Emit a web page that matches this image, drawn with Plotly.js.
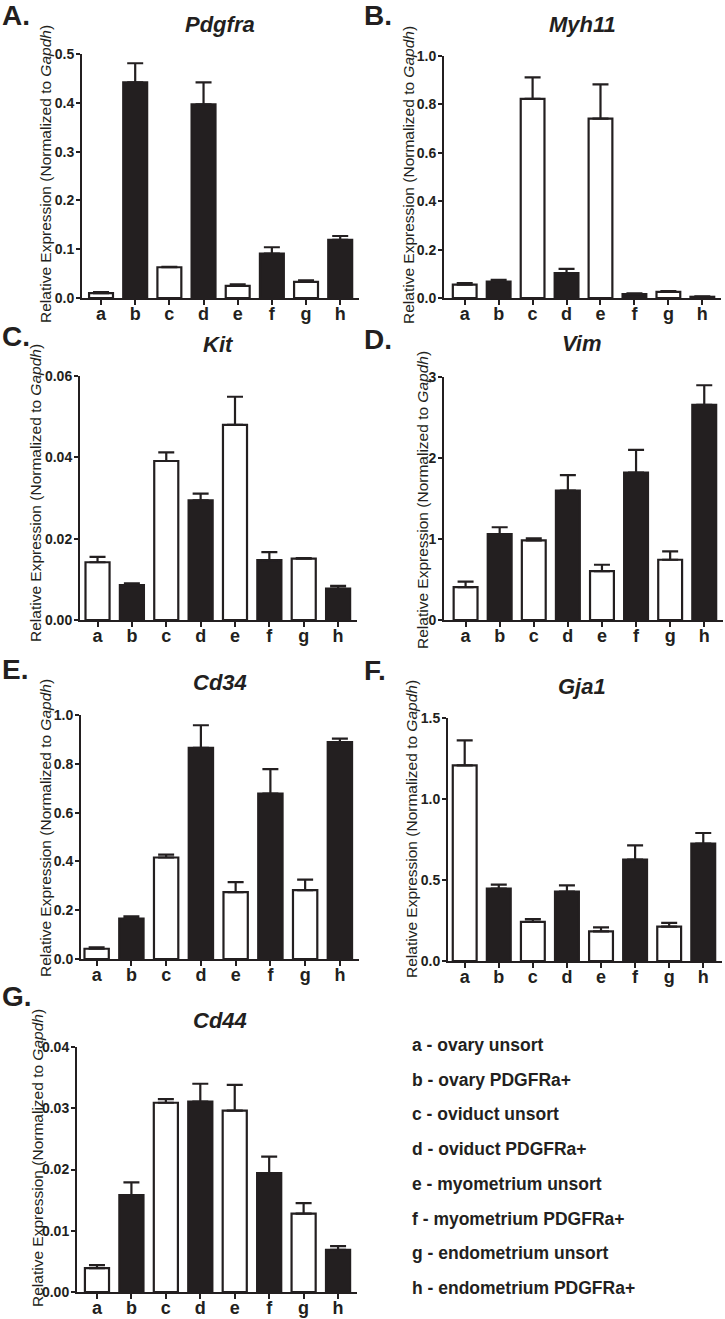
<!DOCTYPE html>
<html>
<head>
<meta charset="utf-8">
<script src="https://cdn.plot.ly/plotly-3.0.1.min.js"></script>
<style>html,body{margin:0;padding:0;background:#fff;}#chart{width:725px;height:1319px;}</style>
</head>
<body>
<div id="chart"></div>
<script>
// ---------------- DATA ----------------
const categories = ['a','b','c','d','e','f','g','h'];
const legendLabels = [
  'a - ovary unsort',
  'b - ovary PDGFRa+',
  'c - oviduct unsort',
  'd - oviduct PDGFRa+',
  'e - myometrium unsort',
  'f - myometrium PDGFRa+',
  'g - endometrium unsort',
  'h - endometrium PDGFRa+'
];
const geneNames = ['Pdgfra','Myh11','Kit','Vim','Cd34','Gja1','Cd44'];
const panelLetters = ['A.','B.','C.','D.','E.','F.','G.'];

const pdgfraMean = [0.010, 0.442, 0.063, 0.397, 0.025, 0.091, 0.033, 0.119];
const pdgfraSem  = [0.002, 0.039, 0.001, 0.045, 0.003, 0.013, 0.003, 0.008];
const myh11Mean  = [0.055, 0.068, 0.823, 0.103, 0.741, 0.016, 0.025, 0.005];
const myh11Sem   = [0.007, 0.007, 0.089, 0.017, 0.142, 0.003, 0.004, 0.002];
const kitMean    = [0.0142, 0.0086, 0.0391, 0.0294, 0.0480, 0.0147, 0.0151, 0.0077];
const kitSem     = [0.0013, 0.0004, 0.0021, 0.0017, 0.0069, 0.0020, 0.0001, 0.0007];
const vimMean    = [0.405, 1.062, 0.983, 1.596, 0.603, 1.820, 0.744, 2.657];
const vimSem     = [0.070, 0.083, 0.025, 0.193, 0.079, 0.280, 0.103, 0.241];
const cd34Mean   = [0.042, 0.166, 0.416, 0.865, 0.274, 0.678, 0.282, 0.889];
const cd34Sem    = [0.006, 0.009, 0.012, 0.093, 0.041, 0.100, 0.043, 0.014];
const gja1Mean   = [1.208, 0.447, 0.241, 0.428, 0.183, 0.626, 0.212, 0.724];
const gja1Sem    = [0.154, 0.025, 0.018, 0.039, 0.025, 0.088, 0.023, 0.066];
const cd44Mean   = [0.0039, 0.0158, 0.0309, 0.0311, 0.0296, 0.0194, 0.0128, 0.0069];
const cd44Sem    = [0.0005, 0.0021, 0.0006, 0.0029, 0.0042, 0.0027, 0.0017, 0.0006];

const pdgfraTicks = [0, 0.1, 0.2, 0.3, 0.4, 0.5];
const myh11Ticks  = [0, 0.2, 0.4, 0.6, 0.8, 1.0];
const kitTicks    = [0, 0.02, 0.04, 0.06];
const vimTicks    = [0, 1, 2, 3];
const cd34Ticks   = [0, 0.2, 0.4, 0.6, 0.8, 1.0];
const gja1Ticks   = [0, 0.5, 1.0, 1.5];
const cd44Ticks   = [0, 0.01, 0.02, 0.03, 0.04];

const means = [pdgfraMean, myh11Mean, kitMean, vimMean, cd34Mean, gja1Mean, cd44Mean];
const sems  = [pdgfraSem, myh11Sem, kitSem, vimSem, cd34Sem, gja1Sem, cd44Sem];
const ticks = [pdgfraTicks, myh11Ticks, kitTicks, vimTicks, cd34Ticks, gja1Ticks, cd44Ticks];
const tickDecimals = [1, 1, 2, 0, 1, 1, 2];

// ---------------- GEOMETRY / STYLE (pixels) ----------------
const W = 725, H = 1319;
const INK = '#231f20';
const FONT = 'Liberation Sans, Arial, sans-serif';
const geom = [
  {xa: 82,  xr: 359, top: 54,  bot: 298, r0: -0.557, tx: 220, ty: 25,  lx: 0,   ly: 16,  yx: 46,  yy: 174},
  {xa: 444, xr: 721, top: 56,  bot: 298, r0: -0.61,  tx: 582, ty: 25,  lx: 362, ly: 16,  yx: 408, yy: 175},
  {xa: 80,  xr: 357, top: 376, bot: 620, r0: -0.51,  tx: 218, ty: 345, lx: 0,   ly: 336, yx: 36,  yy: 493},
  {xa: 444, xr: 723, top: 377, bot: 620, r0: -0.633, tx: 582, ty: 343, lx: 362, ly: 340, yx: 422, yy: 500},
  {xa: 81,  xr: 359, top: 715, bot: 959, r0: -0.45,  tx: 220, ty: 683, lx: 0,   ly: 669, yx: 45,  yy: 828},
  {xa: 448, xr: 722, top: 718, bot: 961, r0: -0.49,  tx: 582, ty: 687, lx: 362, ly: 671, yx: 411, yy: 829},
  {xa: 77,  xr: 357, top: 1047, bot: 1292, r0: -0.58, tx: 220, ty: 1020, lx: 0, ly: 996, yx: 37, yy: 1158}
];

const fillFor = i => (i % 2 === 0 ? '#ffffff' : INK);

const traces = [];
const layout = {
  width: W, height: H,
  margin: {l: 0, r: 0, t: 0, b: 0},
  paper_bgcolor: '#fff', plot_bgcolor: 'rgba(0,0,0,0)',
  showlegend: false,
  bargap: 0.3,
  annotations: []
};

means.forEach((m, p) => {
  const g = geom[p];
  const sfx = p === 0 ? '' : String(p + 1);
  traces.push({
    type: 'bar',
    x: categories,
    y: m,
    xaxis: 'x' + sfx, yaxis: 'y' + sfx,
    marker: {color: categories.map((c, i) => fillFor(i)), line: {color: INK, width: 2.2}},
    error_y: {type: 'data', symmetric: false, array: sems[p], arrayminus: m.map(() => 0),
              color: INK, thickness: 2.2, width: 8},
    hoverinfo: 'skip'
  });
  const t = ticks[p];
  layout['xaxis' + sfx] = {
    domain: [g.xa / W, g.xr / W],
    anchor: 'y' + sfx,
    type: 'category',
    range: [g.r0, 7.55],
    showline: true, linecolor: INK, linewidth: 2,
    ticks: 'outside', ticklen: 5, tickwidth: 2, tickcolor: INK,
    ticklabelstandoff: -7,
    showgrid: false, zeroline: false,
    tickfont: {family: FONT, size: 18, color: INK, weight: 'bold'},
    fixedrange: true
  };
  layout['yaxis' + sfx] = {
    domain: [1 - g.bot / H, 1 - g.top / H],
    anchor: 'x' + sfx,
    range: [0, t[t.length - 1]],
    tickmode: 'array',
    tickvals: t,
    ticktext: t.map(v => v.toFixed(tickDecimals[p])),
    showline: true, linecolor: INK, linewidth: 2,
    ticks: 'outside', ticklen: 4, tickwidth: 2, tickcolor: INK,
    ticklabelstandoff: -1,
    showgrid: false, zeroline: false,
    tickfont: {family: FONT, size: 14, color: INK, weight: 'bold'},
    fixedrange: true
  };
  layout.annotations.push({
    xref: 'paper', yref: 'paper', x: g.tx / W, y: 1 - g.ty / H,
    xanchor: 'center', yanchor: 'middle', showarrow: false,
    text: '<b><i>' + geneNames[p] + '</i></b>',
    font: {family: FONT, size: 22, color: INK}
  });
  layout.annotations.push({
    xref: 'paper', yref: 'paper', x: g.lx / W, y: 1 - g.ly / H,
    xanchor: 'left', yanchor: 'middle', showarrow: false,
    text: '<b>' + panelLetters[p] + '</b>',
    font: {family: FONT, size: 28, color: INK}
  });
  layout.annotations.push({
    xref: 'paper', yref: 'paper', x: g.yx / W, y: 1 - g.yy / H,
    xanchor: 'center', yanchor: 'middle', showarrow: false, textangle: -90,
    text: 'Relative Expression (Normalized to <i>Gapdh</i>)',
    font: {family: FONT, size: 15.5, color: INK}
  });
});

legendLabels.forEach((lab, i) => {
  const py = 1045 + i * 34.7;
  layout.annotations.push({
    xref: 'paper', yref: 'paper', x: 410 / W, y: 1 - py / H,
    xanchor: 'left', yanchor: 'middle', showarrow: false,
    text: '<b>' + lab + '</b>',
    font: {family: FONT, size: 17.5, color: INK}
  });
});

Plotly.newPlot('chart', traces, layout, {displayModeBar: false, staticPlot: true});
</script>
</body>
</html>
